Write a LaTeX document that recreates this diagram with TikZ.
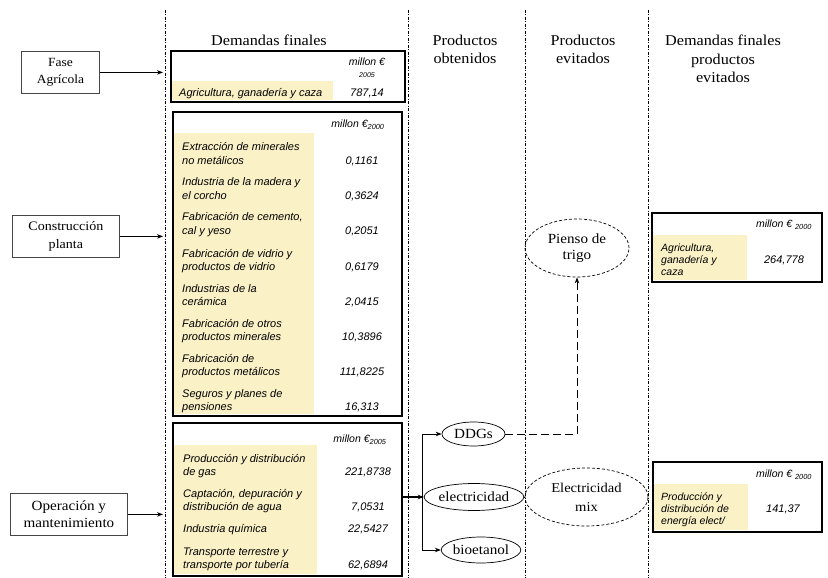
\documentclass[tikz,border=0pt]{standalone}
\usepackage{fontspec}
\setmainfont[FakeStretch=1.08]{Liberation Serif}
\newfontfamily\tabfont{Liberation Sans}
\usetikzlibrary{arrows.meta,shapes.geometric}

\definecolor{cellyellow}{RGB}{251,241,199}
\definecolor{framegray}{RGB}{70,70,70}

\tikzset{
  divider/.style={line width=0.8pt, dash pattern=on 3pt off 1.5pt on 1pt off 1.5pt},
  heading/.style={font=\fontsize{15}{18.7}\selectfont, align=center, inner sep=0pt},
  phase/.style={draw=framegray, line width=0.8pt, align=center, inner sep=0pt, anchor=north west},
  frame/.style={draw, line width=1.8pt, inner sep=0pt, anchor=north west},
  cell/.style={fill=cellyellow, inner sep=0pt, anchor=north west},
  rowtxt/.style={font=\tabfont\itshape\fontsize{11}{13}\selectfont, inner sep=0pt},
  sidetxt/.style={font=\tabfont\itshape\fontsize{10.5}{12}\selectfont, inner sep=0pt},
  unit/.style={font=\tabfont\itshape\fontsize{10.5}{12}\selectfont, inner sep=0pt},
  flow/.style={-{Stealth[length=6pt,width=4.5pt]}, line width=0.8pt},
  product/.style={ellipse, draw, line width=0.7pt, inner sep=0pt, align=center,
    font=\fontsize{14}{16.5}\selectfont},
  avoided/.style={product, dash pattern=on 3pt off 2pt},
  link/.style={line width=1pt, dash pattern=on 8pt off 4pt},
}

% one table row of two lines: name, y of first line, line 1, line 2, value
\newcommand\tworow[5]{%
  \node[rowtxt, anchor=base west] (#1a) at (\txtx,#2+4) {#3};
  \node[rowtxt, anchor=base west] (#1b) at (\txtx,#2+17.3) {#4};
  \node[rowtxt, anchor=base] (#1v) at (\valx,#2+17.3) {#5};}

\begin{document}
\begin{tikzpicture}[x=1pt,y=-1pt]
\useasboundingbox (0,0) rectangle (828,578);

% column dividers
\foreach \dx in {165,408,525,648}
  \draw[divider] (\dx,10) -- (\dx,578);
\coordinate (entry) at (163,0);

% column headings
\node[heading] (hdemand) at (269,40) {Demandas finales};
\node[heading] (hobt) at (465,49.5) {Productos\\obtenidos};
\node[heading] (hevit) at (583,49.5) {Productos\\evitados};
\node[heading] (hdemev) at (723,59) {Demandas finales\\productos\\evitados};

% life-cycle phases
\node[phase, minimum width=78pt, minimum height=42pt,
  font=\fontsize{12.5}{17}\selectfont] (fase) at (21,51) {Fase\\Agrícola};
\node[phase, minimum width=107pt, minimum height=42pt,
  font=\fontsize{13}{18}\selectfont] (constr) at (12,215) {Construcción\\planta};
\node[phase, minimum width=117pt, minimum height=42pt,
  font=\fontsize{14}{17.5}\selectfont] (oper) at (10,493) {Operación y\\mantenimiento};

\draw[flow] (fase.east) -- (fase.east -| entry);
\draw[flow] (constr.east) -- (constr.east -| entry);
\draw[flow] (oper.east) -- (oper.east -| entry);

% table: agricultural phase
\node[cell, minimum width=161pt, minimum height=19pt] (c1) at (172,81) {};
\node[frame, minimum width=234pt, minimum height=51pt] (t1) at (170,50) {};
\node[unit] (u1) at (367,61.7) {millon €};
\node[font=\tabfont\itshape\fontsize{7}{8}\selectfont, inner sep=0pt] (u1y) at (367,75) {2005};
\node[rowtxt, anchor=base west] (r1a) at (179,96.3) {Agricultura, ganadería y caza};
\node[rowtxt, anchor=base] (r1v) at (367,96.3) {787,14};

% table: plant construction
\node[cell, minimum width=140pt, minimum height=281pt] (c2) at (174,133) {};
\node[frame, minimum width=229pt, minimum height=304pt] (t2) at (172,111) {};
\node[unit] (u2) at (358,125) {millon €\textsubscript{2000}};
\def\txtx{182}\def\valx{362}
\tworow{p1}{146.7}{Extracción de minerales}{no metálicos}{0,1161}
\tworow{p2}{181.7}{Industria de la madera y}{el corcho}{0,3624}
\tworow{p3}{216.7}{Fabricación de cemento,}{cal y yeso}{0,2051}
\tworow{p4}{253}{Fabricación de vidrio y}{productos de vidrio}{0,6179}
\tworow{p5}{288}{Industrias de la}{cerámica}{2,0415}
\tworow{p6}{323}{Fabricación de otros}{productos minerales}{10,3896}
\tworow{p7}{358}{Fabricación de}{productos metálicos}{111,8225}
\tworow{p8}{393}{Seguros y planes de}{pensiones}{16,313}

% table: operation and maintenance
\node[cell, minimum width=143pt, minimum height=129pt] (c3) at (174,445) {};
\node[frame, minimum width=229pt, minimum height=153pt] (t3) at (172,422) {};
\node[unit] (u3) at (360,440) {millon €\textsubscript{2005}};
\def\txtx{183}\def\valx{368}
\tworow{o1}{458.3}{Producción y distribución}{de gas}{221,8738}
\tworow{o2}{493.3}{Captación, depuración y}{distribución de agua}{7,0531}
\node[rowtxt, anchor=base west] (o3a) at (183,532.3) {Industria química};
\node[rowtxt, anchor=base] (o3v) at (368,532.3) {22,5427};
\tworow{o4}{551}{Transporte terrestre y}{transporte por tubería}{62,6894}

% products obtained
\node[product, minimum width=63pt, minimum height=24pt] (ddgs) at (473.5,434) {DDGs};
\node[product, minimum width=82pt, minimum height=27pt] (elec) at (474,497) {electricidad};
\node[product, minimum width=78pt, minimum height=26pt] (bio) at (481,550) {bioetanol};

\coordinate (split) at (422,497);
\draw[flow, line width=1.3pt] (t3.east |- elec) -- (elec.west);
\draw[flow] (split) |- (ddgs.west);
\draw[flow] (split) |- (bio.west);

% avoided products
\node[avoided, minimum width=104pt, minimum height=58pt] (pienso) at (577,248) {Pienso de\\trigo};
\node[avoided, minimum width=123pt, minimum height=58pt,
  font=\fontsize{13.5}{19}\selectfont] (mix) at (586.5,497) {Electricidad\\mix};

\draw[link, -{Stealth[length=6pt,width=4.5pt]}] (ddgs.east) -| (pienso.south);
\draw[line width=0.8pt, dash pattern=on 3pt off 2pt] (elec.east) -- (mix.west);

% final demands of avoided products
\node[cell, minimum width=95pt, minimum height=45pt] (c4) at (652,235) {};
\node[frame, minimum width=170pt, minimum height=69pt] (t4) at (651,212) {};
\node[unit] (u4) at (784,224.7) {millon € \textsubscript{2000}};
\node[sidetxt, anchor=base west] (a1) at (661,251) {Agricultura,};
\node[sidetxt, anchor=base west] (a2) at (661,263.2) {ganadería y};
\node[sidetxt, anchor=base west] (a3) at (661,275.2) {caza};
\node[rowtxt, anchor=base] (av) at (784,263.7) {264,778};

\node[cell, minimum width=95pt, minimum height=46pt] (c5) at (653,484) {};
\node[frame, minimum width=169pt, minimum height=70pt] (t5) at (652,461) {};
\node[unit] (u5) at (784,475) {millon € \textsubscript{2000}};
\node[sidetxt, anchor=base west] (e1) at (661,500.5) {Producción y};
\node[sidetxt, anchor=base west] (e2) at (661,512.3) {distribución de};
\node[sidetxt, anchor=base west] (e3) at (661,524.5) {energía elect/};
\node[rowtxt, anchor=base] (ev) at (783,512.3) {141,37};
\end{tikzpicture}
\end{document}
